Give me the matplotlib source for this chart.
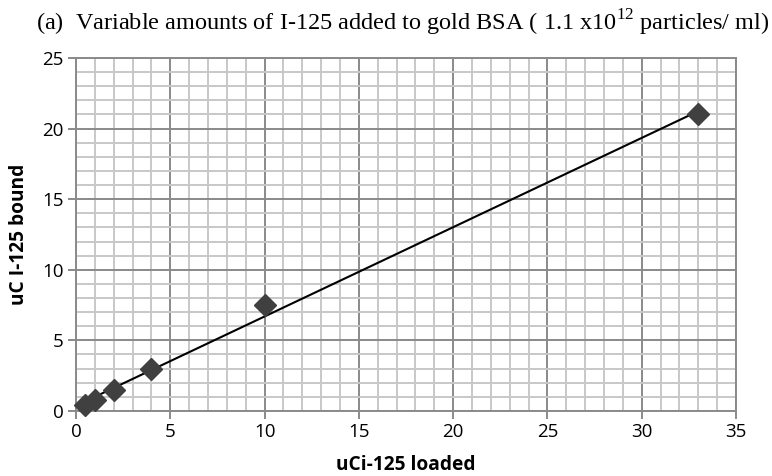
import numpy as np
import matplotlib.pyplot as plt
from matplotlib.ticker import MultipleLocator

plt.rcParams['mathtext.fontset'] = 'custom'
plt.rcParams['mathtext.rm'] = 'Liberation Serif'

# uCi of I-125 loaded vs. uC bound
loaded = np.array([0.5, 1, 2, 4, 10, 33])
bound = np.array([0.4, 0.75, 1.5, 3, 7.5, 21])

fig = plt.figure(figsize=(7.72, 4.76), dpi=100)
ax = fig.add_axes([0.0984, 0.1366, 0.855, 0.7416])

ax.set_xlim(0, 35)
ax.set_ylim(0, 25)
ax.xaxis.set_major_locator(MultipleLocator(5))
ax.yaxis.set_major_locator(MultipleLocator(5))
ax.xaxis.set_minor_locator(MultipleLocator(1))
ax.yaxis.set_minor_locator(MultipleLocator(1))
ax.grid(which='minor', color='#c8c8c8', lw=1.4)
ax.grid(which='major', color='#8a8a8a', lw=1.4)
ax.set_axisbelow(True)
for s in ax.spines.values():
    s.set_color('#8a8a8a')
    s.set_linewidth(1.4)
ax.tick_params(which='major', length=6, width=1.4, color='#8a8a8a',
               labelsize=13.5, pad=3)
ax.tick_params(which='minor', length=0)
for lab in ax.get_xticklabels() + ax.get_yticklabels():
    lab.set_fontfamily('Open Sans')

# linear trend line through the points
k, b = np.polyfit(loaded, bound, 1)
xs = np.array([loaded.min(), loaded.max()])
ax.plot(xs, k * xs + b, color='black', lw=1.5, zorder=3)
ax.plot(loaded, bound, 'D', color='#404040', ms=11, zorder=4, clip_on=False)

ax.set_xlabel('uCi-125 loaded', fontsize=13.8, fontweight='bold',
              fontfamily='Open Sans', labelpad=10)
ax.set_ylabel('uC I-125 bound', fontsize=13.8, fontweight='bold',
              fontfamily='Open Sans', labelpad=9)

fig.text(0.522, 0.953,
         '(a)  Variable amounts of I-125 added to gold BSA ( 1.1 x10$^{12}$ particles/ ml)',
         ha='center', va='center', fontsize=17.5, fontfamily='Liberation Serif')

fig.savefig('out.png', dpi=100)
